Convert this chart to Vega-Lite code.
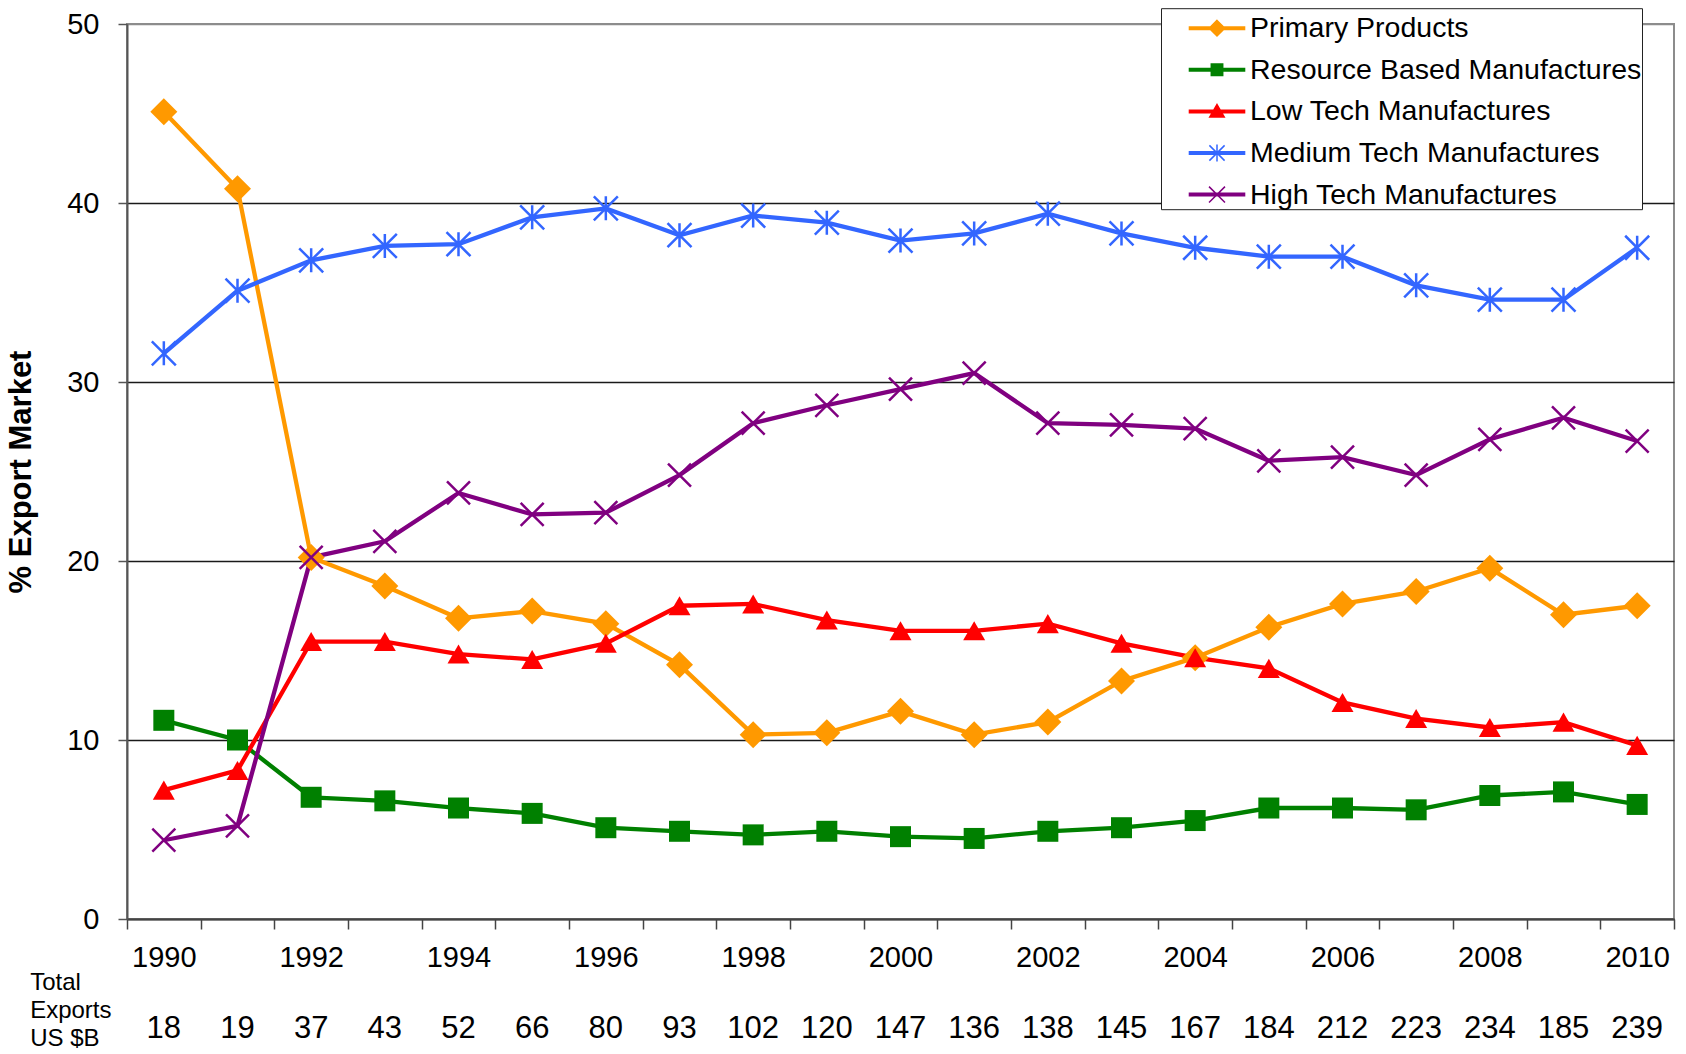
{
  "$schema": "https://vega.github.io/schema/vega-lite/v6.json",
  "background": "white",
  "padding": {"left": 4, "top": 7, "right": 0, "bottom": 0},
  "config": {
    "font": "Liberation Sans",
    "view": {"stroke": null},
    "axis": {"labelColor": "#000000", "titleColor": "#000000"}
  },
  "datasets": {
    "shares": [
      {"year": 1990, "series": "Primary Products", "share": 45.1},
      {"year": 1991, "series": "Primary Products", "share": 40.8},
      {"year": 1992, "series": "Primary Products", "share": 20.2},
      {"year": 1993, "series": "Primary Products", "share": 18.6},
      {"year": 1994, "series": "Primary Products", "share": 16.8},
      {"year": 1995, "series": "Primary Products", "share": 17.2},
      {"year": 1996, "series": "Primary Products", "share": 16.5},
      {"year": 1997, "series": "Primary Products", "share": 14.2},
      {"year": 1998, "series": "Primary Products", "share": 10.3},
      {"year": 1999, "series": "Primary Products", "share": 10.4},
      {"year": 2000, "series": "Primary Products", "share": 11.6},
      {"year": 2001, "series": "Primary Products", "share": 10.3},
      {"year": 2002, "series": "Primary Products", "share": 11.0},
      {"year": 2003, "series": "Primary Products", "share": 13.3},
      {"year": 2004, "series": "Primary Products", "share": 14.6},
      {"year": 2005, "series": "Primary Products", "share": 16.3},
      {"year": 2006, "series": "Primary Products", "share": 17.6},
      {"year": 2007, "series": "Primary Products", "share": 18.3},
      {"year": 2008, "series": "Primary Products", "share": 19.6},
      {"year": 2009, "series": "Primary Products", "share": 17.0},
      {"year": 2010, "series": "Primary Products", "share": 17.5},
      {"year": 1990, "series": "Resource Based Manufactures", "share": 11.1},
      {"year": 1991, "series": "Resource Based Manufactures", "share": 10.0},
      {"year": 1992, "series": "Resource Based Manufactures", "share": 6.8},
      {"year": 1993, "series": "Resource Based Manufactures", "share": 6.6},
      {"year": 1994, "series": "Resource Based Manufactures", "share": 6.2},
      {"year": 1995, "series": "Resource Based Manufactures", "share": 5.9},
      {"year": 1996, "series": "Resource Based Manufactures", "share": 5.1},
      {"year": 1997, "series": "Resource Based Manufactures", "share": 4.9},
      {"year": 1998, "series": "Resource Based Manufactures", "share": 4.7},
      {"year": 1999, "series": "Resource Based Manufactures", "share": 4.9},
      {"year": 2000, "series": "Resource Based Manufactures", "share": 4.6},
      {"year": 2001, "series": "Resource Based Manufactures", "share": 4.5},
      {"year": 2002, "series": "Resource Based Manufactures", "share": 4.9},
      {"year": 2003, "series": "Resource Based Manufactures", "share": 5.1},
      {"year": 2004, "series": "Resource Based Manufactures", "share": 5.5},
      {"year": 2005, "series": "Resource Based Manufactures", "share": 6.2},
      {"year": 2006, "series": "Resource Based Manufactures", "share": 6.2},
      {"year": 2007, "series": "Resource Based Manufactures", "share": 6.1},
      {"year": 2008, "series": "Resource Based Manufactures", "share": 6.9},
      {"year": 2009, "series": "Resource Based Manufactures", "share": 7.1},
      {"year": 2010, "series": "Resource Based Manufactures", "share": 6.4},
      {"year": 1990, "series": "Low Tech Manufactures", "share": 7.2},
      {"year": 1991, "series": "Low Tech Manufactures", "share": 8.3},
      {"year": 1992, "series": "Low Tech Manufactures", "share": 15.5},
      {"year": 1993, "series": "Low Tech Manufactures", "share": 15.5},
      {"year": 1994, "series": "Low Tech Manufactures", "share": 14.8},
      {"year": 1995, "series": "Low Tech Manufactures", "share": 14.5},
      {"year": 1996, "series": "Low Tech Manufactures", "share": 15.4},
      {"year": 1997, "series": "Low Tech Manufactures", "share": 17.5},
      {"year": 1998, "series": "Low Tech Manufactures", "share": 17.6},
      {"year": 1999, "series": "Low Tech Manufactures", "share": 16.7},
      {"year": 2000, "series": "Low Tech Manufactures", "share": 16.1},
      {"year": 2001, "series": "Low Tech Manufactures", "share": 16.1},
      {"year": 2002, "series": "Low Tech Manufactures", "share": 16.5},
      {"year": 2003, "series": "Low Tech Manufactures", "share": 15.4},
      {"year": 2004, "series": "Low Tech Manufactures", "share": 14.6},
      {"year": 2005, "series": "Low Tech Manufactures", "share": 14.0},
      {"year": 2006, "series": "Low Tech Manufactures", "share": 12.1},
      {"year": 2007, "series": "Low Tech Manufactures", "share": 11.2},
      {"year": 2008, "series": "Low Tech Manufactures", "share": 10.7},
      {"year": 2009, "series": "Low Tech Manufactures", "share": 11.0},
      {"year": 2010, "series": "Low Tech Manufactures", "share": 9.7},
      {"year": 1990, "series": "Medium Tech Manufactures", "share": 31.6},
      {"year": 1991, "series": "Medium Tech Manufactures", "share": 35.1},
      {"year": 1992, "series": "Medium Tech Manufactures", "share": 36.8},
      {"year": 1993, "series": "Medium Tech Manufactures", "share": 37.6},
      {"year": 1994, "series": "Medium Tech Manufactures", "share": 37.7},
      {"year": 1995, "series": "Medium Tech Manufactures", "share": 39.2},
      {"year": 1996, "series": "Medium Tech Manufactures", "share": 39.7},
      {"year": 1997, "series": "Medium Tech Manufactures", "share": 38.2},
      {"year": 1998, "series": "Medium Tech Manufactures", "share": 39.3},
      {"year": 1999, "series": "Medium Tech Manufactures", "share": 38.9},
      {"year": 2000, "series": "Medium Tech Manufactures", "share": 37.9},
      {"year": 2001, "series": "Medium Tech Manufactures", "share": 38.3},
      {"year": 2002, "series": "Medium Tech Manufactures", "share": 39.4},
      {"year": 2003, "series": "Medium Tech Manufactures", "share": 38.3},
      {"year": 2004, "series": "Medium Tech Manufactures", "share": 37.5},
      {"year": 2005, "series": "Medium Tech Manufactures", "share": 37.0},
      {"year": 2006, "series": "Medium Tech Manufactures", "share": 37.0},
      {"year": 2007, "series": "Medium Tech Manufactures", "share": 35.4},
      {"year": 2008, "series": "Medium Tech Manufactures", "share": 34.6},
      {"year": 2009, "series": "Medium Tech Manufactures", "share": 34.6},
      {"year": 2010, "series": "Medium Tech Manufactures", "share": 37.5},
      {"year": 1990, "series": "High Tech Manufactures", "share": 4.4},
      {"year": 1991, "series": "High Tech Manufactures", "share": 5.2},
      {"year": 1992, "series": "High Tech Manufactures", "share": 20.2},
      {"year": 1993, "series": "High Tech Manufactures", "share": 21.1},
      {"year": 1994, "series": "High Tech Manufactures", "share": 23.8},
      {"year": 1995, "series": "High Tech Manufactures", "share": 22.6},
      {"year": 1996, "series": "High Tech Manufactures", "share": 22.7},
      {"year": 1997, "series": "High Tech Manufactures", "share": 24.8},
      {"year": 1998, "series": "High Tech Manufactures", "share": 27.7},
      {"year": 1999, "series": "High Tech Manufactures", "share": 28.7},
      {"year": 2000, "series": "High Tech Manufactures", "share": 29.6},
      {"year": 2001, "series": "High Tech Manufactures", "share": 30.5},
      {"year": 2002, "series": "High Tech Manufactures", "share": 27.7},
      {"year": 2003, "series": "High Tech Manufactures", "share": 27.6},
      {"year": 2004, "series": "High Tech Manufactures", "share": 27.4},
      {"year": 2005, "series": "High Tech Manufactures", "share": 25.6},
      {"year": 2006, "series": "High Tech Manufactures", "share": 25.8},
      {"year": 2007, "series": "High Tech Manufactures", "share": 24.8},
      {"year": 2008, "series": "High Tech Manufactures", "share": 26.8},
      {"year": 2009, "series": "High Tech Manufactures", "share": 28.0},
      {"year": 2010, "series": "High Tech Manufactures", "share": 26.7}
    ],
    "exports": [
      {"year": 1990, "total": 18}, {"year": 1991, "total": 19}, {"year": 1992, "total": 37},
      {"year": 1993, "total": 43}, {"year": 1994, "total": 52}, {"year": 1995, "total": 66},
      {"year": 1996, "total": 80}, {"year": 1997, "total": 93}, {"year": 1998, "total": 102},
      {"year": 1999, "total": 120}, {"year": 2000, "total": 147}, {"year": 2001, "total": 136},
      {"year": 2002, "total": 138}, {"year": 2003, "total": 145}, {"year": 2004, "total": 167},
      {"year": 2005, "total": 184}, {"year": 2006, "total": 212}, {"year": 2007, "total": 223},
      {"year": 2008, "total": 234}, {"year": 2009, "total": 185}, {"year": 2010, "total": 239}
    ]
  },
  "bounds": "flush",
  "spacing": 85,
  "vconcat": [
    {
      "width": 1547,
      "height": 895,
      "view": {"stroke": "#8c8c8c", "strokeWidth": 2},
      "data": {"name": "shares"},
      "encoding": {
        "x": {
          "field": "year",
          "type": "quantitative",
          "scale": {"domain": [1989.5, 2010.5], "nice": false, "zero": false},
          "axis": {
            "title": null,
            "grid": false,
            "values": [1989.5, 1990.5, 1991.5, 1992.5, 1993.5, 1994.5, 1995.5, 1996.5, 1997.5, 1998.5, 1999.5, 2000.5, 2001.5, 2002.5, 2003.5, 2004.5, 2005.5, 2006.5, 2007.5, 2008.5, 2009.5, 2010.5],
            "labelExpr": "(datum.value + 0.5) % 2 === 0 ? '' + (datum.value + 0.5) : ''",
            "labelOffset": 36.8,
            "labelFlush": false,
            "labelOverlap": false,
            "labelBound": false,
            "labelFontSize": 29,
            "labelPadding": 14,
            "domainColor": "#444444",
            "domainWidth": 2,
            "tickColor": "#444444",
            "tickWidth": 1.5,
            "tickSize": 10
          }
        },
        "y": {
          "field": "share",
          "type": "quantitative",
          "scale": {"domain": [0, 50], "nice": false},
          "axis": {
            "title": "% Export Market",
            "values": [0, 10, 20, 30, 40, 50],
            "grid": true,
            "gridColor": {"condition": {"test": "datum.value === 50", "value": "#8c8c8c"}, "value": "#1a1a1a"},
            "gridWidth": 1.3,
            "domainColor": "#555555",
            "domainWidth": 2,
            "tickColor": "#555555",
            "tickWidth": 1.5,
            "tickSize": 9,
            "labelFontSize": 29,
            "labelPadding": 19,
            "titleFontSize": 31,
            "titleFontWeight": "bold",
            "titlePadding": 29
          }
        },
        "color": {
          "field": "series",
          "type": "nominal",
          "scale": {
            "domain": ["Primary Products", "Resource Based Manufactures", "Low Tech Manufactures", "Medium Tech Manufactures", "High Tech Manufactures"],
            "range": ["#ff9900", "#008000", "#ff0000", "#3366ff", "#800080"]
          },
          "legend": {
            "title": null,
            "orient": "none",
            "legendX": 1034,
            "legendY": -15.8,
            "padding": 0,
            "strokeColor": "#222222",
            "fillColor": "#ffffff",
            "symbolSize": 1444,
            "symbolOffset": 36,
            "labelOffset": 13,
            "rowPadding": 6.6,
            "labelFontSize": 28.5,
            "labelColor": "#000000",
            "labelLimit": 0,
            "encode": {
              "symbols": {
                "update": {
                  "shape": {"signal": "datum.value === 'Primary Products' ? 'M-1.45,-0.065H1.45V0.065H-1.45Z M0,-0.41L0.41,0L0,0.41L-0.41,0Z' : datum.value === 'Resource Based Manufactures' ? 'M-1.45,-0.065H1.45V0.065H-1.45Z M-0.3,-0.3H0.3V0.3H-0.3Z' : datum.value === 'Low Tech Manufactures' ? 'M-1.45,-0.065H1.45V0.065H-1.45Z M0,-0.36L0.38,0.3H-0.38Z' : datum.value === 'Medium Tech Manufactures' ? 'M-1.45,-0.065H1.45V0.065H-1.45Z M0,-0.45V0.45M-0.4,-0.4L0.4,0.4M-0.4,0.4L0.4,-0.4' : 'M-1.45,-0.065H1.45V0.065H-1.45Z M-0.42,-0.42L0.42,0.42M-0.42,0.42L0.42,-0.42'"},
                  "fill": {"signal": "{'Primary Products': '#ff9900', 'Resource Based Manufactures': '#008000', 'Low Tech Manufactures': '#ff0000', 'Medium Tech Manufactures': '#3366ff', 'High Tech Manufactures': '#800080'}[datum.value]"},
                  "stroke": {"signal": "{'Primary Products': '#ff9900', 'Resource Based Manufactures': '#008000', 'Low Tech Manufactures': '#ff0000', 'Medium Tech Manufactures': '#3366ff', 'High Tech Manufactures': '#800080'}[datum.value]"},
                  "strokeWidth": {"value": 1.5},
                  "size": {"value": 1444},
                  "opacity": {"value": 1},
                  "fillOpacity": {"value": 1},
                  "strokeOpacity": {"value": 1}
                }
              }
            }
          }
        }
      },
      "layer": [
        {"mark": {"type": "line", "strokeWidth": 4.3}},
        {
          "transform": [{"filter": "datum.series === 'Primary Products'"}],
          "mark": {"type": "point", "filled": true, "opacity": 1, "shape": "diamond", "size": 729}
        },
        {
          "transform": [{"filter": "datum.series === 'Resource Based Manufactures'"}],
          "mark": {"type": "point", "filled": true, "opacity": 1, "shape": "square", "size": 441}
        },
        {
          "transform": [{"filter": "datum.series === 'Low Tech Manufactures'"}],
          "mark": {"type": "point", "filled": true, "opacity": 1, "shape": "triangle-up", "size": 484}
        },
        {
          "transform": [{"filter": "datum.series === 'Medium Tech Manufactures'"}],
          "mark": {"type": "point", "filled": false, "opacity": 1, "strokeWidth": 2.5, "shape": "M0,-1V1M-1,-1L1,1M-1,1L1,-1", "size": 576}
        },
        {
          "transform": [{"filter": "datum.series === 'High Tech Manufactures'"}],
          "mark": {"type": "point", "filled": false, "opacity": 1, "strokeWidth": 2.5, "shape": "M-1,-1L1,1M-1,1L1,-1", "size": 529}
        }
      ]
    },
    {
      "width": 1547,
      "height": 50,
      "data": {"name": "exports"},
      "title": {
        "text": ["Total", "Exports", "US $B"],
        "orient": "left",
        "anchor": "middle",
        "angle": 0,
        "align": "left",
        "baseline": "middle",
        "offset": 15.5,
        "dy": -46.5,
        "fontSize": 24,
        "fontWeight": "normal",
        "lineHeight": 28,
        "color": "#000000"
      },
      "mark": {"type": "text", "fontSize": 31, "baseline": "middle", "color": "#000000"},
      "encoding": {
        "x": {
          "field": "year",
          "type": "quantitative",
          "scale": {"domain": [1989.5, 2010.5], "nice": false, "zero": false},
          "axis": null
        },
        "text": {"field": "total", "type": "quantitative"}
      }
    }
  ]
}
